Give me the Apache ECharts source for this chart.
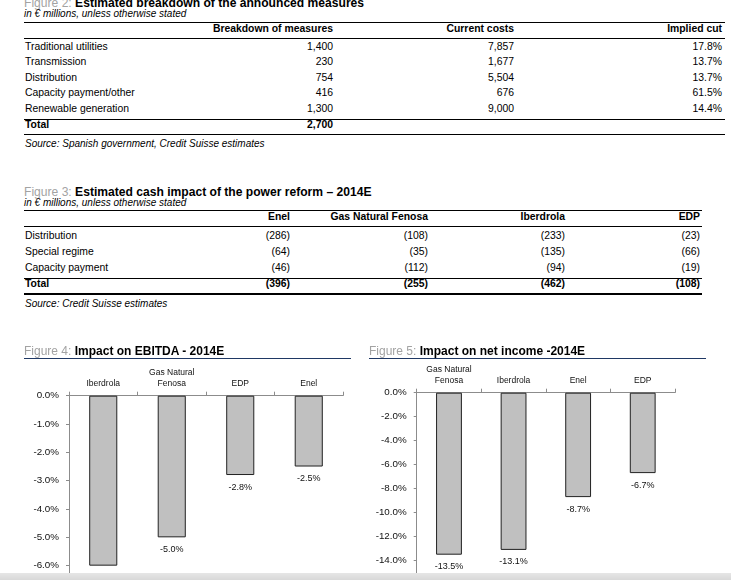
<!DOCTYPE html>
<html><head><meta charset="utf-8">
<script src="https://cdn.jsdelivr.net/npm/echarts@6/dist/echarts.min.js"></script>
<style>
html,body{margin:0;padding:0;width:731px;height:580px;overflow:hidden;background:#fff;}
.t{position:absolute;white-space:nowrap;line-height:normal;font-family:"Liberation Sans",Arial,sans-serif;color:#000;}
.ln{position:absolute;background:#000;}
</style></head><body>
<div id="chart" style="position:absolute;left:0;top:330px;width:731px;height:300px;"></div>
<div style="position:absolute;left:0;top:573px;width:731px;height:7px;background:linear-gradient(#e6e6e6,#d8d8d8);z-index:10"></div>
<script>
// ---------- data ----------
const fig2Title = "Estimated breakdown of the announced measures";
const fig2Sub = "in € millions, unless otherwise stated";
const fig2Columns = ["Breakdown of measures", "Current costs", "Implied cut"];
const fig2Rows = ["Traditional utilities", "Transmission", "Distribution", "Capacity payment/other", "Renewable generation"];
const fig2Breakdown = ["1,400", "230", "754", "416", "1,300"];
const fig2Costs = ["7,857", "1,677", "5,504", "676", "9,000"];
const fig2Cut = ["17.8%", "13.7%", "13.7%", "61.5%", "14.4%"];
const fig2Total = ["2,700", "", ""];
const fig2Source = "Source: Spanish government, Credit Suisse estimates";

const fig3Title = "Estimated cash impact of the power reform – 2014E";
const fig3Sub = "in € millions, unless otherwise stated";
const fig3Columns = ["Enel", "Gas Natural Fenosa", "Iberdrola", "EDP"];
const fig3Rows = ["Distribution", "Special regime", "Capacity payment"];
const fig3Enel = ["(286)", "(64)", "(46)"];
const fig3GNF = ["(108)", "(35)", "(112)"];
const fig3Iberdrola = ["(233)", "(135)", "(94)"];
const fig3EDP = ["(23)", "(66)", "(19)"];
const fig3Total = ["(396)", "(255)", "(462)", "(108)"];
const fig3Source = "Source: Credit Suisse estimates";

const fig4Title = "Impact on EBITDA - 2014E";
const fig4Categories = ["Iberdrola", "Gas Natural\nFenosa", "EDP", "Enel"];
const fig4Values = [-6.0, -5.0, -2.8, -2.5];
const fig5Title = "Impact on net income -2014E";
const fig5Categories = ["Gas Natural\nFenosa", "Iberdrola", "Enel", "EDP"];
const fig5Values = [-13.5, -13.1, -8.7, -6.7];

// ---------- html text helpers ----------
const W = 731;
function txt(x, base, s, o) {
  o = o || {};
  const size = o.size || 10.4;
  const d = document.createElement('div');
  d.className = 't';
  d.style.fontSize = size + 'px';
  d.style.top = (base - 0.905 * size) + 'px';
  if (o.align === 'right') d.style.right = (W - x) + 'px'; else d.style.left = x + 'px';
  if (o.bold) d.style.fontWeight = 'bold';
  if (o.italic) d.style.fontStyle = 'italic';
  if (o.html) d.innerHTML = s; else d.textContent = s;
  document.body.appendChild(d);
}
function line(x1, x2, top, h, color) {
  const d = document.createElement('div');
  d.className = 'ln';
  d.style.left = x1 + 'px'; d.style.width = (x2 - x1) + 'px';
  d.style.top = top + 'px'; d.style.height = h + 'px';
  if (color) d.style.background = color;
  document.body.appendChild(d);
}
function figTitle(x, base, num, title, size) {
  txt(x, base, '<span style="color:#a3a3a3">Figure ' + num + ': </span><b>' + title + '</b>', {size: size || 12, html: true});
}
const L = 24;
function table(lay, num, title, sub, cols, rows, cells, total, source) {
  const R = lay.right;
  figTitle(L, lay.title, num, title, 12.1);
  txt(L, lay.sub, sub, {italic: true, size: 10});
  line(L, R, lay.line1, 1.6);
  cols.forEach((c, j) => txt(lay.colX[j], lay.header, c, {bold: true, align: 'right'}));
  line(L, R, lay.line2, 1);
  rows.forEach((r, i) => {
    const b = lay.row1 + lay.step * i;
    txt(L + 1, b, r);
    cells.forEach((col, j) => txt(lay.colX[j], b, col[i], {align: 'right'}));
  });
  line(L, R, lay.line3, 1);
  txt(L + 1, lay.total, 'Total', {bold: true});
  total.forEach((v, j) => { if (v) txt(lay.colX[j], lay.total, v, {bold: true, align: 'right'}); });
  line(L, R, lay.line4, 1.6);
  txt(L + 1, lay.source, source, {italic: true, size: 10});
}
table({title: 7.2, sub: 17.5, line1: 21.5, header: 32, line2: 37.5, row1: 50.3, step: 15.5,
       line3: 119.3, total: 128.7, line4: 133.8, source: 147.5, right: 725, colX: [333, 514, 722]},
      2, fig2Title, fig2Sub, fig2Columns, fig2Rows, [fig2Breakdown, fig2Costs, fig2Cut], fig2Total, fig2Source);
table({title: 196.2, sub: 206.3, line1: 209.5, header: 220.5, line2: 226, row1: 239.3, step: 16,
       line3: 278, total: 287.5, line4: 293, source: 307, right: 702, colX: [290, 428, 565, 700]},
      3, fig3Title, fig3Sub, fig3Columns, fig3Rows, [fig3Enel, fig3GNF, fig3Iberdrola, fig3EDP], fig3Total, fig3Source);

figTitle(24, 355, 4, fig4Title);
line(24, 351, 357.6, 1.5, '#1f3864');
figTitle(369, 355, 5, fig5Title);
line(369, 706, 357.6, 1.5, '#1f3864');

// ---------- charts ----------
const CF = 'Liberation Sans';
const axisCol = '#8c8c8c';
const pct = v => v.toFixed(1) + '%';

function xAx(idx, data) {
  return {
    type: 'category', gridIndex: idx, position: 'top', data: data,
    axisLine: {onZero: false, lineStyle: {color: axisCol, width: 1}},
    axisTick: {show: true, length: 4, lineStyle: {color: axisCol}},
    axisLabel: {interval: 0, margin: 7, fontFamily: CF, fontSize: 8.5, lineHeight: 11, color: '#111'}
  };
}
function yAx(idx, min, interval) {
  return {
    type: 'value', gridIndex: idx, min: min, max: 0, interval: interval,
    axisLine: {show: true, lineStyle: {color: axisCol, width: 1}},
    axisTick: {show: true, length: 3, lineStyle: {color: axisCol}},
    splitLine: {show: false},
    axisLabel: {formatter: pct, margin: 10, fontFamily: CF, fontSize: 9.8, color: '#111'}
  };
}
function bars(idx, values, bw) {
  return {
    type: 'bar', xAxisIndex: idx, yAxisIndex: idx, data: values, barWidth: bw,
    itemStyle: {color: '#c0c0c0', borderColor: '#222', borderWidth: 1},
    label: {show: true, position: 'bottom', distance: 7.5, formatter: p => pct(p.value),
            fontFamily: CF, fontSize: 9, color: '#111'}
  };
}
const chart = echarts.init(document.getElementById('chart'), null, {renderer: 'canvas'});
chart.setOption({
  animation: false,
  grid: [
    {left: 69, top: 65.7, width: 274, height: 198.3},
    {left: 416.7, top: 62.7, width: 258.3, height: 192}
  ],
  xAxis: [xAx(0, fig4Categories), xAx(1, fig5Categories)],
  yAxis: [yAx(0, -7, 1), yAx(1, -16, 2)],
  series: [bars(0, fig4Values, '41%'), bars(1, fig5Values, '40%')]
});
</script>
</body></html>
